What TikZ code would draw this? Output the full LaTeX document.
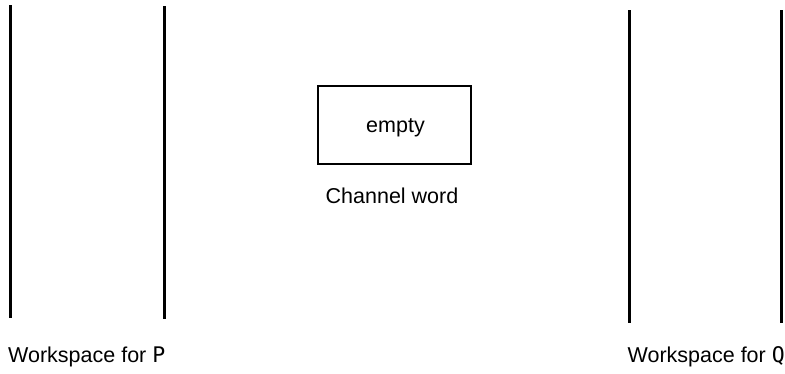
\documentclass[tikz,border=0pt]{standalone}
\usepackage{fontspec}
\setmainfont{Liberation Sans}
\setmonofont{DejaVu Sans Mono}
\begin{document}
\begin{tikzpicture}[x=1pt,y=-1pt,
  wall/.style={line width=3pt},
  lbl/.style={font=\fontsize{21.5}{25}\selectfont, inner sep=0pt, anchor=base west},
  chan/.style={draw, line width=2.5pt, minimum width=153pt, minimum height=78pt, inner sep=0pt}]
\useasboundingbox (0,0) rectangle (785,373);
\coordinate (p1t) at (10,5); \coordinate (p1b) at (10,318);
\coordinate (p2t) at (164,6); \coordinate (p2b) at (164,319);
\coordinate (q1t) at (629,10); \coordinate (q1b) at (629,323);
\coordinate (q2t) at (781,10); \coordinate (q2b) at (781,323);
\draw[wall] (p1t) -- (p1b);
\draw[wall] (p2t) -- (p2b);
\draw[wall] (q1t) -- (q1b);
\draw[wall] (q2t) -- (q2b);
\node[chan] (box) at (394.5,125) {};
\node[lbl, anchor=base] (empty) at (395.5,132.5) {empty};
\node[lbl, anchor=base] (cw) at (392,203) {Channel word};
\node[lbl] (wp) at (8,362) {Workspace for \texttt{P}};
\node[lbl, anchor=base east] (wq) at (785,362) {Workspace for \texttt{Q}};
\end{tikzpicture}
\end{document}
